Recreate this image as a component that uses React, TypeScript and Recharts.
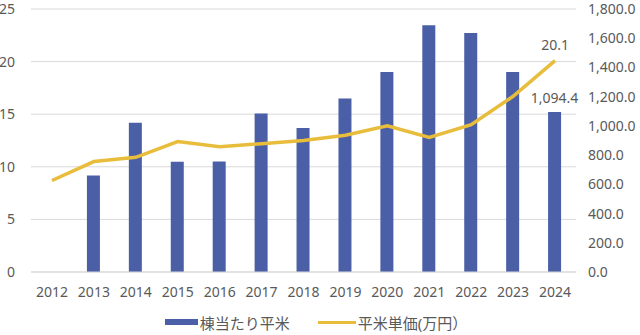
import { ComposedChart, Bar, Line, XAxis, YAxis, CartesianGrid, Legend, LabelList } from "recharts";

document.body.style.margin = "0";

const years = ["2012", "2013", "2014", "2015", "2016", "2017", "2018", "2019", "2020", "2021", "2022", "2023", "2024"];
// 棟当たり平米 (right axis)
const areaPerBuilding = [null, 661, 1021, 754, 756, 1085, 985, 1187, 1368, 1689, 1635, 1368, 1094.4];
// 平米単価(万円) (left axis)
const unitPrice = [8.7, 10.5, 10.9, 12.4, 11.9, 12.2, 12.5, 13.0, 13.9, 12.8, 14.0, 16.7, 20.1];
const leftTicks = [0, 5, 10, 15, 20, 25];
const rightTicks = [0, 200, 400, 600, 800, 1000, 1200, 1400, 1600, 1800];

const BAR_COLOR = "#4a5fa5";
const LINE_COLOR = "#e8bd3c";
const TEXT = "#595959";
const FONT = "'Noto Sans', 'Noto Sans CJK JP', sans-serif";

const data = years.map((y, i) => ({ year: y, area: areaPerBuilding[i], price: unitPrice[i] }));
const lastIdx = years.length - 1;
const lastArea = areaPerBuilding[lastIdx];
const lastPrice = unitPrice[lastIdx];

const fmt1 = (v: number) => Number(v).toLocaleString("en-US", { minimumFractionDigits: 1, maximumFractionDigits: 1 });

function LegendBox() {
    return (
        <div style={{ display: "flex", justifyContent: "center", alignItems: "center", fontFamily: FONT, fontSize: 15, color: TEXT, height: 26, paddingRight: 8 }}>
            <span style={{ display: "inline-block", width: 33, height: 6, background: BAR_COLOR, marginRight: 2 }} />
            <span style={{ marginRight: 28 }}>棟当たり平米</span>
            <span style={{ display: "inline-block", width: 38, height: 3, background: LINE_COLOR, marginRight: 2 }} />
            <span>平米単価(万円）</span>
        </div>
    );
}

export default function App() {
    return (
        <ComposedChart width={640} height={335} data={data} margin={{ top: 9, right: 0, left: 0, bottom: 0 }} style={{ fontFamily: FONT }}>
            <CartesianGrid yAxisId="left" stroke="#d9d9d9" vertical={false} />
            <XAxis dataKey="year" axisLine={{ stroke: "#d9d9d9" }} tickLine={false} tickSize={0} tickMargin={15} height={37}
                tick={{ fill: TEXT, fontSize: 14 }} interval={0} />
            <YAxis yAxisId="left" orientation="left" domain={[0, 25]} ticks={leftTicks} width={31} axisLine={false} tickLine={false}
                tickSize={0} tickMargin={16} tick={{ fill: TEXT, fontSize: 14 }} />
            <YAxis yAxisId="right" orientation="right" domain={[0, 1800]} ticks={rightTicks} width={64} axisLine={false} tickLine={false}
                tickSize={0} tickMargin={12} tick={{ fill: TEXT, fontSize: 14 }} tickFormatter={fmt1} />
            <Bar yAxisId="right" dataKey="area" fill={BAR_COLOR} barSize={13} isAnimationActive={false}>
                <LabelList dataKey="area" content={(p: any) => Number(p.value) === lastArea ? (
                    <text x={Number(p.x) + Number(p.width) / 2} y={Number(p.y) - 9} textAnchor="middle" fill={TEXT} fontSize={14}>{fmt1(p.value)}</text>
                ) : null} />
            </Bar>
            <Line yAxisId="left" dataKey="price" stroke={LINE_COLOR} strokeWidth={3.5} dot={false} isAnimationActive={false}>
                <LabelList dataKey="price" content={(p: any) => Number(p.value) === lastPrice ? (
                    <text x={p.x} y={Number(p.y) - 11} textAnchor="middle" fill={TEXT} fontSize={14}>{p.value}</text>
                ) : null} />
            </Line>
            <Legend verticalAlign="bottom" content={() => <LegendBox />} />
        </ComposedChart>
    );
}
